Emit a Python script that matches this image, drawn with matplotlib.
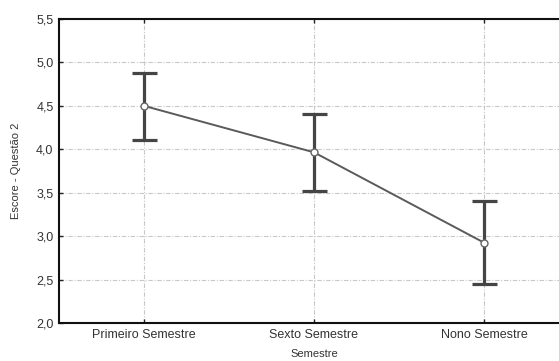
import matplotlib
matplotlib.use("Agg")
import matplotlib.pyplot as plt
from matplotlib.ticker import FuncFormatter, MultipleLocator

categories = ["Primeiro Semestre", "Sexto Semestre", "Nono Semestre"]
means = [4.50, 3.965, 2.925]
upper = [4.88, 4.41, 3.40]
lower = [4.11, 3.52, 2.445]

plt.rcParams['font.family'] = ['Liberation Sans', 'DejaVu Sans']

fig = plt.figure(figsize=(5.59, 3.61), dpi=100)
ax = fig.add_axes([59/559, 1 - 323/361, 510/559, (323-19)/361])

x = list(range(1, len(categories) + 1))
yerr_low = [m - l for m, l in zip(means, lower)]
yerr_up = [u - m for m, u in zip(means, upper)]

ax.errorbar(x, means, yerr=[yerr_low, yerr_up], fmt='none', ecolor='#454545',
            elinewidth=2.3, capsize=9, capthick=2.3, zorder=3)
ax.plot(x, means, color='#5a5a5a', linewidth=1.4, zorder=4)
ax.plot(x, means, linestyle='none', marker='o', markersize=5,
        markerfacecolor='white', markeredgecolor='#666666', markeredgewidth=1.0, zorder=5)

ax.set_xlim(0.5, 3.5)
ax.set_ylim(2.0, 5.5)
ax.set_xticks(x)
ax.set_xticklabels(categories)
ax.yaxis.set_major_locator(MultipleLocator(0.5))
ax.yaxis.set_major_formatter(FuncFormatter(lambda v, p: f"{v:.1f}".replace('.', ',')))

ax.grid(True, color='#c8c8c8', linestyle=(0, (4, 1.5, 1, 1.5)), linewidth=0.8, zorder=0)
ax.set_axisbelow(True)

for s in ['left', 'bottom', 'top']:
    ax.spines[s].set_linewidth(1.5)
    ax.spines[s].set_color('#111111')
ax.spines['right'].set_visible(False)

ax.tick_params(axis='both', direction='in', length=3, width=1, color='#222222',
               labelsize=9, labelcolor='#333333', top=True, right=False, pad=4)

ax.set_xlabel("Semestre", fontsize=8, color='#333333', labelpad=6)
ax.set_ylabel("Escore - Questão 2", fontsize=8, color='#333333', labelpad=11)

fig.savefig("out.png", dpi=100)
